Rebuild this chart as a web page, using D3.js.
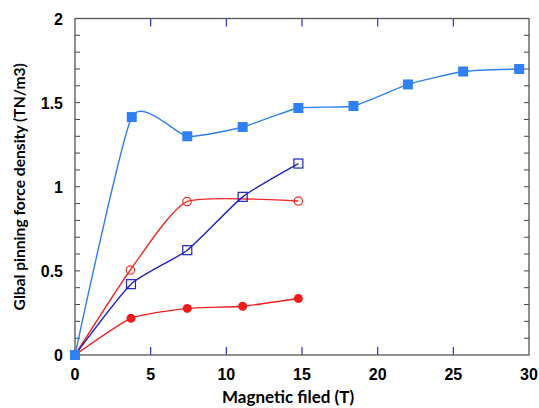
<!DOCTYPE html>
<html lang="en">
  <head>
    <meta charset="UTF-8" />
    <title>Pinning force</title>
    <script src="https://d3js.org/d3.v7.min.js"></script>
    <style>
      body { margin: 0; background: #fff; }
    </style>
  </head>
  <body>
    <script>
      const width = 539;
      const height = 408;
      const margin = { top: 18.5, right: 10, bottom: 53, left: 75 };

      // data
      const fieldLong = [0, 3.75, 7.42, 11.08, 14.76, 18.4, 22.0, 25.65, 29.35];
      const blueFilled = [0, 1.414, 1.30, 1.355, 1.468, 1.48, 1.608, 1.685, 1.70];
      const fieldShort = [0, 3.7, 7.42, 11.08, 14.76];
      const redOpenX = [0, 3.66, 7.4, 14.76];
      const redOpenY = [0, 0.505, 0.912, 0.915];
      const blueOpen = [0, 0.421, 0.623, 0.94, 1.138];
      const redFilled = [0, 0.218, 0.277, 0.29, 0.336];

      const xTicks = [0, 5, 10, 15, 20, 25, 30];
      const yTicks = [0, 0.5, 1, 1.5, 2];

      const svg = d3.select("body").append("svg")
        .attr("width", width).attr("height", height);

      const x = d3.scaleLinear().domain([0, 30]).range([margin.left, width - margin.right]);
      const y = d3.scaleLinear().domain([0, 2]).range([height - margin.bottom, margin.top]);

      const x0 = x(0), x1 = x(30), y0 = y(0), y1 = y(2);

      // minor y ticks (both sides, inside)
      const yMinor = d3.range(1, 20).map(d => d / 10);
      svg.append("g").selectAll("line").data(yMinor).join("line")
        .attr("x1", x0).attr("x2", x0 + 5)
        .attr("y1", d => y(d)).attr("y2", d => y(d))
        .attr("stroke", "#444").attr("stroke-width", 1);
      svg.append("g").selectAll("line").data(yMinor).join("line")
        .attr("x1", x1).attr("x2", x1 - 5)
        .attr("y1", d => y(d)).attr("y2", d => y(d))
        .attr("stroke", "#444").attr("stroke-width", 1);

      // x ticks, blue, top and bottom, inside
      const xIn = xTicks.filter(d => d > 0 && d < 30);
      svg.append("g").selectAll("line").data(xIn).join("line")
        .attr("x1", d => x(d)).attr("x2", d => x(d))
        .attr("y1", y0).attr("y2", y0 - 8)
        .attr("stroke", "#2a2ae8").attr("stroke-width", 1.2);
      svg.append("g").selectAll("line").data(xIn).join("line")
        .attr("x1", d => x(d)).attr("x2", d => x(d))
        .attr("y1", y1).attr("y2", y1 + 8)
        .attr("stroke", "#2a2ae8").attr("stroke-width", 1.2);

      // frame
      svg.append("rect")
        .attr("x", x0).attr("y", y1)
        .attr("width", x1 - x0).attr("height", y0 - y1)
        .attr("fill", "none").attr("stroke", "#555").attr("stroke-width", 1.3);

      // tick labels
      svg.append("g").selectAll("text").data(xTicks).join("text")
        .attr("x", d => x(d)).attr("y", y0 + 25)
        .attr("text-anchor", "middle")
        .style("font-family", "Liberation Sans, Arial, sans-serif")
        .style("font-weight", "bold").style("font-size", "16px")
        .text(d => d);
      svg.append("g").selectAll("text").data(yTicks).join("text")
        .attr("x", x0 - 12).attr("y", d => y(d) + 6)
        .attr("text-anchor", "end")
        .style("font-family", "Liberation Sans, Arial, sans-serif")
        .style("font-weight", "bold").style("font-size", "16px")
        .text(d => d);

      // axis titles
      svg.append("text")
        .attr("x", 288).attr("y", 403)
        .attr("text-anchor", "middle")
        .style("font-family", "Lato, 'Open Sans', sans-serif")
        .style("font-weight", "bold").style("font-size", "17px")
        .text("Magnetic filed (T)");
      svg.append("text")
        .attr("transform", `translate(25, ${(y0 + y1) / 2}) rotate(-90)`)
        .attr("text-anchor", "middle")
        .style("font-family", "Lato, 'Open Sans', sans-serif")
        .style("font-weight", "bold").style("font-size", "15.6px")
        .text("Glbal pinning force density (TN/m3)");

      const line = d3.line().x(d => x(d[0])).y(d => y(d[1])).curve(d3.curveCardinal.tension(0.45));
      const zip = (xs, ys) => xs.map((v, i) => [v, ys[i]]);

      const series = [
        { pts: zip(fieldShort, redFilled), color: "#f01c1c", marker: "circleFill" },
        { pts: zip(redOpenX, redOpenY), color: "#ee2a2a", marker: "circleOpen" },
        { pts: zip(fieldShort, blueOpen), color: "#2020c8", marker: "squareOpen" },
        { pts: zip(fieldLong, blueFilled), color: "#2f7ff5", marker: "squareFill" }
      ];

      series.forEach(s => {
        svg.append("path").datum(s.pts)
          .attr("d", line)
          .attr("fill", "none").attr("stroke", s.color).attr("stroke-width", 1.4);
        const g = svg.append("g");
        const pts = s.pts.filter(d => d[0] > 0);
        if (s.marker === "circleFill") {
          g.selectAll("circle").data(pts).join("circle")
            .attr("cx", d => x(d[0])).attr("cy", d => y(d[1])).attr("r", 4.5)
            .attr("fill", s.color);
        } else if (s.marker === "circleOpen") {
          g.selectAll("circle").data(pts).join("circle")
            .attr("cx", d => x(d[0])).attr("cy", d => y(d[1])).attr("r", 4.2)
            .attr("fill", "none").attr("stroke", s.color).attr("stroke-width", 1.2);
        } else if (s.marker === "squareOpen") {
          g.selectAll("rect").data(pts).join("rect")
            .attr("x", d => x(d[0]) - 4.5).attr("y", d => y(d[1]) - 4.5)
            .attr("width", 9).attr("height", 9)
            .attr("fill", "none").attr("stroke", s.color).attr("stroke-width", 1.2);
        } else {
          g.selectAll("rect").data(s.pts).join("rect")
            .attr("x", d => x(d[0]) - 5).attr("y", d => y(d[1]) - 5)
            .attr("width", 10).attr("height", 10)
            .attr("fill", s.color);
        }
      });
    </script>
  </body>
</html>
